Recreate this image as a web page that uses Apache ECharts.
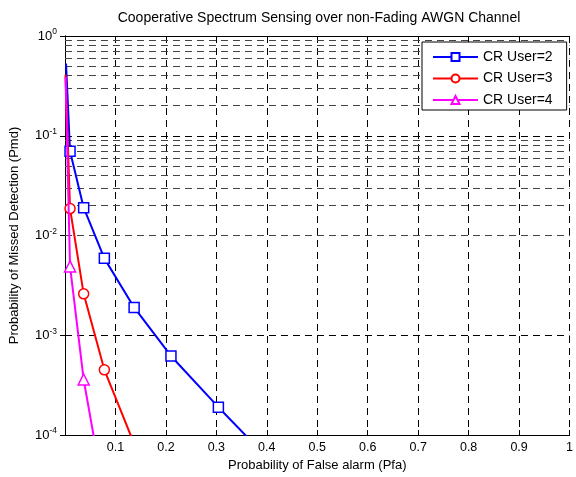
<!DOCTYPE html>
<html>
<head>
<meta charset="utf-8">
<script src="https://cdn.jsdelivr.net/npm/echarts@6/dist/echarts.min.js"></script>
<style>
  html, body { margin: 0; padding: 0; background: #fff; }
  #main { width: 576px; height: 477px; }
</style>
</head>
<body>
<div id="main"></div>
<script>
// values (first point has no marker, last point lies below the axis and gets clipped)
var pfa2 = [0.002, 0.01, 0.037, 0.078, 0.137, 0.21, 0.304, 0.41];
var pmd2 = [0.53, 0.07, 0.019, 0.0059, 0.0019, 0.00062, 0.00019, 0.000053];
var pfa3 = [0.001, 0.01, 0.037, 0.078, 0.14];
var pmd3 = [0.41, 0.0186, 0.0026, 0.00045, 0.000075];
var pfa4 = [0.001, 0.01, 0.037, 0.07];
var pmd4 = [0.39, 0.0049, 0.00036, 0.000041];

var seriesNames = ['CR User=2', 'CR User=3', 'CR User=4'];
var yMinor = [];
for (var d = -4; d < 0; d++) {
  for (var m = 2; m <= 9; m++) yMinor.push(m * Math.pow(10, d));
}

function pairs(xs, ys) {
  return xs.map(function (x, i) {
    var item = { value: [x, ys[i]] };
    if (i === 0 || (i === xs.length - 1 && ys[i] < 1e-4)) item.symbol = 'none';
    return item;
  });
}

var chart = echarts.init(document.getElementById('main'));

var font = 'Liberation Sans, Arial, sans-serif';

var option = {
  backgroundColor: '#fff',
  animation: false,
  textStyle: { fontFamily: font },
  title: {
    text: 'Cooperative Spectrum Sensing over non-Fading AWGN Channel',
    left: 314, top: 6, textAlign: 'center',
    textStyle: { fontSize: 14, fontWeight: 'normal', color: '#000', fontFamily: font }
  },
  grid: { left: 63, right: 3, top: 36, bottom: 41, containLabel: false },
  legend: {
    orient: 'vertical',
    left: 422, top: 42,
    z: 20,
    backgroundColor: '#fff',
    borderColor: '#000', borderWidth: 1,
    padding: [8, 14, 3, 10],
    itemGap: 7.5,
    itemWidth: 45, itemHeight: 10,
    textStyle: { fontSize: 14, color: '#000', fontFamily: font },
    data: seriesNames
  },
  xAxis: [{
    type: 'value', min: 0, max: 1, interval: 0.1,
    name: 'Probability of False alarm (Pfa)',
    nameLocation: 'middle', nameGap: 24,
    nameTextStyle: { fontSize: 13, color: '#000' },
    axisLine: { lineStyle: { color: '#000' } },
    axisTick: { inside: true, length: 5, lineStyle: { color: '#000' } },
    axisLabel: {
      color: '#000', fontSize: 12.5, margin: 6,
      formatter: function (v) { return v === 0 ? '' : String(+v.toFixed(1)); }
    },
    splitLine: { show: true, lineStyle: { color: '#000', type: [7, 5], width: 1 } }
  }, {
    type: 'value', min: 0, max: 1, interval: 0.1, position: 'top',
    axisLine: { show: true, onZero: false, lineStyle: { color: '#000' } },
    axisTick: { inside: true, length: 5, lineStyle: { color: '#000' } },
    axisLabel: { show: false },
    splitLine: { show: false }
  }],
  yAxis: [{
    type: 'log', logBase: 10, min: 1e-4, max: 1,
    name: 'Probability of Missed Detection (Pmd)',
    nameLocation: 'middle', nameGap: 44,
    nameTextStyle: { fontSize: 13, color: '#000' },
    axisLine: { show: true, lineStyle: { color: '#000' } },
    axisTick: { show: true, inside: true, length: 5, lineStyle: { color: '#000' } },
    axisLabel: {
      color: '#000', margin: 8,
      formatter: function (v) {
        var e = Math.round(Math.log10(v));
        return '{b|10}{s|' + e + '}';
      },
      rich: {
        b: { fontSize: 13, color: '#000', fontFamily: font },
        s: { fontSize: 8.5, color: '#000', fontFamily: font, verticalAlign: 'top', padding: [0, 0, 8, 0] }
      }
    },
    splitLine: { show: true, lineStyle: { color: '#000', type: [7, 5], width: 1 } }
  }, {
    type: 'log', logBase: 10, min: 1e-4, max: 1, position: 'right',
    axisLine: { show: true, lineStyle: { color: '#000' } },
    axisTick: { show: true, inside: true, length: 5, lineStyle: { color: '#000' } },
    axisLabel: { show: false },
    splitLine: { show: false }
  }],
  series: [{
    name: 'minor',
    type: 'line',
    data: [],
    silent: true,
    z: 1,
    markLine: {
      silent: true,
      symbol: 'none',
      label: { show: false },
      lineStyle: { color: '#444', type: [7, 5], width: 1 },
      data: yMinor.map(function (v) { return { yAxis: v }; })
    }
  }, {
    name: seriesNames[0],
    type: 'line',
    clip: true,
    data: pairs(pfa2, pmd2),
    symbol: 'rect', symbolSize: 10,
    itemStyle: { color: '#fff', borderColor: '#0000ff', borderWidth: 1.5 },
    lineStyle: { color: '#0000ff', width: 2 },
    z: 5
  }, {
    name: seriesNames[1],
    type: 'line',
    clip: true,
    data: pairs(pfa3, pmd3),
    symbol: 'circle', symbolSize: 10,
    itemStyle: { color: '#fff', borderColor: '#ff0000', borderWidth: 1.5 },
    lineStyle: { color: '#ff0000', width: 2 },
    z: 6
  }, {
    name: seriesNames[2],
    type: 'line',
    clip: true,
    data: pairs(pfa4, pmd4),
    symbol: 'triangle', symbolSize: 11,
    itemStyle: { color: '#fff', borderColor: '#ff00ff', borderWidth: 1.5 },
    lineStyle: { color: '#ff00ff', width: 2 },
    z: 7
  }]
};

chart.setOption(option);
</script>
</body>
</html>
